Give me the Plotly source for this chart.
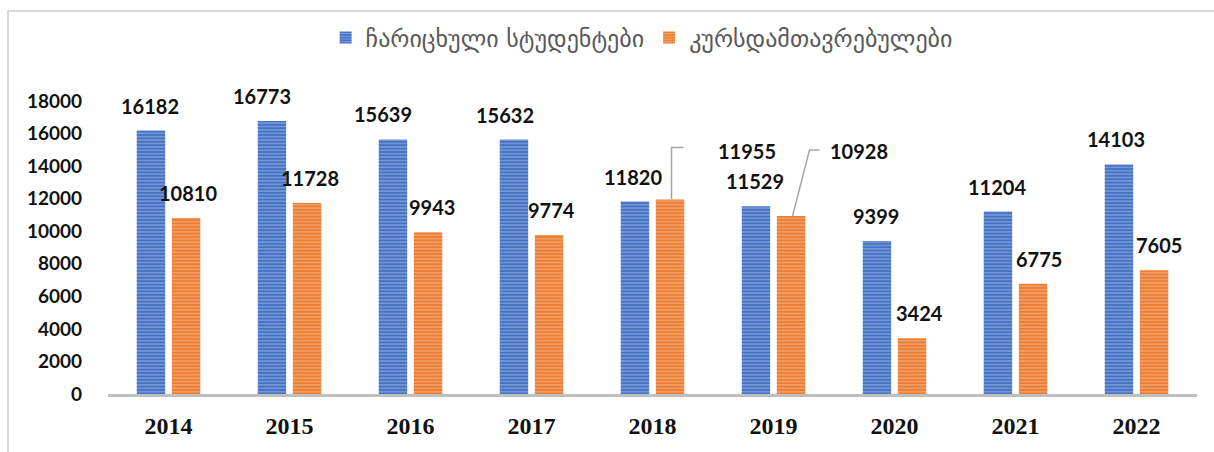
import plotly.graph_objects as go

years = ["2014", "2015", "2016", "2017", "2018", "2019", "2020", "2021", "2022"]
enrolled = [16182, 16773, 15639, 15632, 11820, 11529, 9399, 11204, 14103]
graduates = [10810, 11728, 9943, 9774, 11955, 10928, 3424, 6775, 7605]
series_names = ["ჩარიცხული სტუდენტები", "კურსდამთავრებულები"]
y_ticks = [0, 2000, 4000, 6000, 8000, 10000, 12000, 14000, 16000, 18000]

# label pixel nudges (style only)
blue_dx = [0, -9, -9, -8, -1, 0, 0, 0, -2]
orange_dx = [0, 1, 2, 1, 0, 0, 6, 4, 3]
callouts = {"2018": (75, 48, "M 19,0 L 19,52 L 31,52"),
            "2019": (66, 65, "M 19,0 L 36,66 L 46,66")}

BLUE, BLUE_L = "#4472C4", "#C9D6EF"
ORANGE, ORANGE_L = "#ED7D31", "#FAD7C0"

fig = go.Figure()
fig.add_trace(go.Bar(
    x=years, y=enrolled, name=series_names[0],
    marker=dict(color=BLUE, line=dict(width=0),
                pattern=dict(shape="-", fillmode="overlay", bgcolor=BLUE,
                             fgcolor=BLUE_L, size=3.4, solidity=0.35)),
))
fig.add_trace(go.Bar(
    x=years, y=graduates, name=series_names[1],
    marker=dict(color=ORANGE, line=dict(width=0),
                pattern=dict(shape="-", fillmode="overlay", bgcolor=ORANGE,
                             fgcolor=ORANGE_L, size=3.4, solidity=0.35)),
))

lab_font = dict(family="Lato", size=20, color="#111111", weight="bold")
annotations = []
shapes = []
for i, yr in enumerate(years):
    annotations.append(dict(x=i, y=enrolled[i], xref="x", yref="y", text=str(enrolled[i]),
                            showarrow=False, xshift=-19 + blue_dx[i], yshift=25,
                            yanchor="middle", font=lab_font))
    if yr in callouts:
        dx, dy, path = callouts[yr]
        annotations.append(dict(x=i, y=graduates[i], xref="x", yref="y", text=str(graduates[i]),
                                showarrow=False, xshift=19 + dx, yshift=dy,
                                yanchor="middle", font=lab_font))
        shapes.append(dict(type="path", xref="x", yref="y", xsizemode="pixel", ysizemode="pixel",
                           xanchor=i, yanchor=graduates[i], path=path,
                           line=dict(color="#A6A6A6", width=1.5)))
    else:
        annotations.append(dict(x=i, y=graduates[i], xref="x", yref="y", text=str(graduates[i]),
                                showarrow=False, xshift=19 + orange_dx[i], yshift=25,
                                yanchor="middle", font=lab_font))

# outer chart border
shapes.append(dict(type="rect", xref="paper", yref="paper", x0=-0.0918, x1=1.03, y0=-0.25, y1=1.307,
                   line=dict(color="#D9D9D9", width=2), layer="below"))

fig.update_layout(
    width=1214, height=452,
    margin=dict(l=108, r=17, t=101, b=58),
    paper_bgcolor="white", plot_bgcolor="white",
    barmode="group", bargap=0.42, bargroupgap=0.19,
    showlegend=True,
    legend=dict(orientation="h", x=0.49, xanchor="center", y=1.215, yanchor="middle",
                font=dict(family="DejaVu Sans", size=24, color="#595959"),
                itemclick=False),
    annotations=annotations,
    shapes=shapes,
    xaxis=dict(type="category", categoryorder="array", categoryarray=years,
               range=[-0.5, len(years) - 0.5], autorange=False, automargin=False,
               showline=True, linecolor="#BFBFBF", linewidth=3,
               showgrid=False, ticks="", ticklabelstandoff=8,
               tickfont=dict(family="Liberation Serif", size=24, color="#111111", weight="bold")),
    yaxis=dict(range=[0, 18000], tickvals=y_ticks, tickformat="d", showgrid=False, zeroline=False,
               showline=False, ticks="", ticklabelstandoff=25, automargin=False,
               tickfont=dict(family="Lato", size=19, color="#111111", weight="bold")),
)

fig.write_html("out.html", config={"displayModeBar": False},
               post_script="document.body.style.margin='0';")
